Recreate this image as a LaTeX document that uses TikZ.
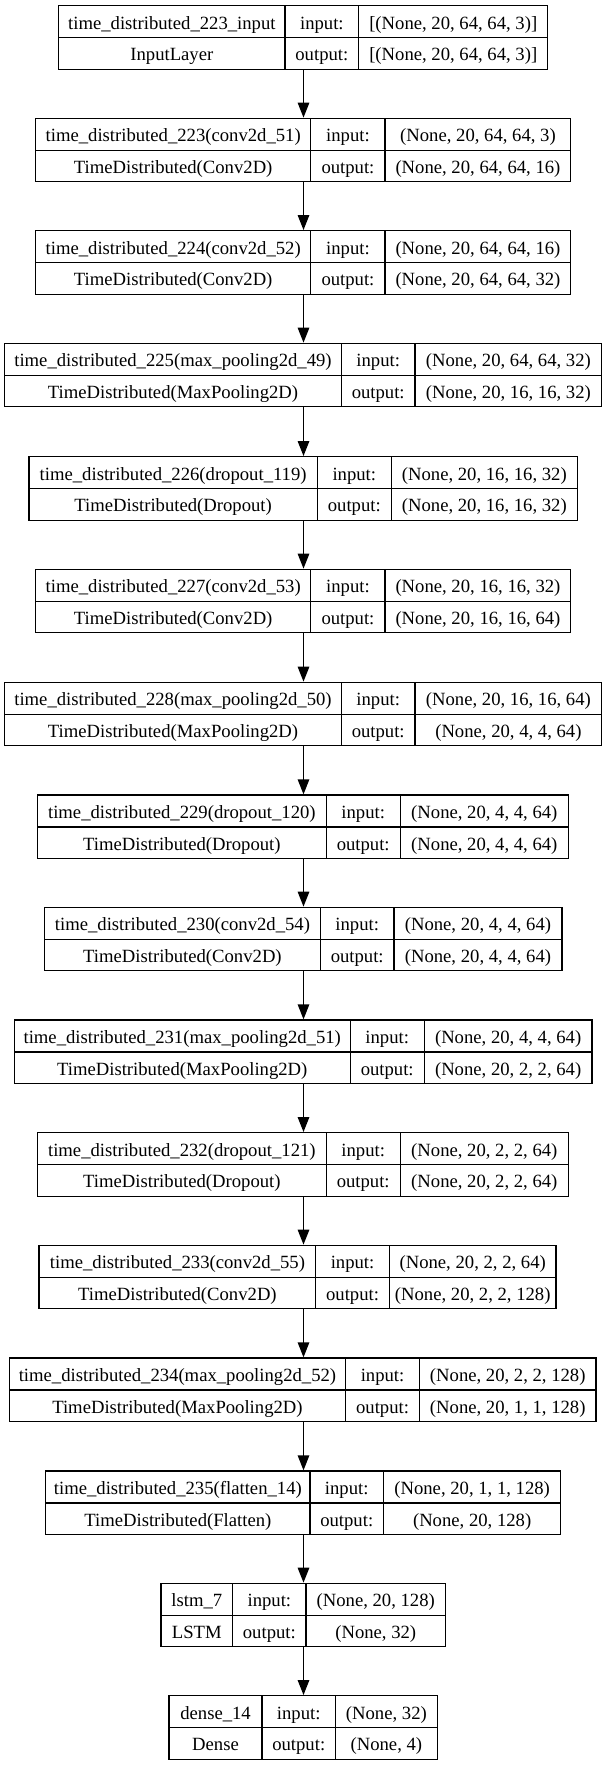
\documentclass[tikz,border=0pt]{standalone}
\usepackage{fontspec}
\setmainfont{Liberation Serif}
\usetikzlibrary{arrows.meta}
\tikzset{
  kbox/.style={draw=black, line width=1.3pt, inner sep=0pt, minimum height=63.5pt},
  kline/.style={draw=black, line width=1.3pt},
  ktext/.style={anchor=base, inner sep=0pt, text=black, font=\fontsize{18.67pt}{22pt}\selectfont},
  karrow/.style={draw=black, line width=1.3pt, -{Triangle[length=15pt,width=11.5pt]}},
}
\newcommand\klayer[9]{\def\kN{#1}\def\kT{#2}\def\kA{#3}\def\kB{#4}\def\kC{#5}\def\kD{#6}\def\kTitle{#7}\def\kClass{#8}\def\kIn{#9}\klayerend}
\newcommand\klayerend[1]{%
  \pgfmathsetmacro\kW{\kD-\kA}%
  \pgfmathsetmacro\kX{(\kA+\kD)/2}%
  \pgfmathsetmacro\kY{\kT+31.75}%
  \pgfmathsetmacro\kM{\kT+32}%
  \pgfmathsetmacro\kE{\kT+63.5}%
  \pgfmathsetmacro\kBa{\kT+23.3}%
  \pgfmathsetmacro\kBb{\kM+23.2}%
  \pgfmathsetmacro\kXa{(\kA+\kB)/2}%
  \pgfmathsetmacro\kXb{(\kB+\kC)/2}%
  \pgfmathsetmacro\kXc{(\kC+\kD)/2}%
  \node[kbox, minimum width=\kW pt] (\kN) at (\kX,\kY) {};
  \draw[kline] (\kA,\kM) -- (\kD,\kM) (\kB,\kT) -- (\kB,\kE) (\kC,\kT) -- (\kC,\kE);
  \node[ktext] (\kN-title) at (\kXa,\kBa) {\kTitle};
  \node[ktext] (\kN-class) at (\kXa,\kBb) {\kClass};
  \node[ktext] (\kN-inl) at (\kXb,\kBa) {input:};
  \node[ktext] (\kN-outl) at (\kXb,\kBb) {output:};
  \node[ktext] (\kN-in) at (\kXc,\kBa) {\kIn};
  \node[ktext] (\kN-out) at (\kXc,\kBb) {#1};
}
\begin{document}
\begin{tikzpicture}[x=1pt,y=-1pt]
\useasboundingbox (0,0) rectangle (604,1765);
\fill[white] (0,0) rectangle (604,1765);
\coordinate (axis) at (303.5,0);
\klayer{L1}{5.7}{58.8}{284.9}{358.8}{547.7}{time\_distributed\_223\_input}{InputLayer}{[(None, 20, 64, 64, 3)]}{[(None, 20, 64, 64, 3)]}
\klayer{L2}{118.3}{35.6}{310.8}{385.1}{570.8}{time\_distributed\_223(conv2d\_51)}{TimeDistributed(Conv2D)}{(None, 20, 64, 64, 3)}{(None, 20, 64, 64, 16)}
\klayer{L3}{230.7}{35.6}{310.8}{385.1}{570.8}{time\_distributed\_224(conv2d\_52)}{TimeDistributed(Conv2D)}{(None, 20, 64, 64, 16)}{(None, 20, 64, 64, 32)}
\klayer{L4}{343.3}{4.6}{341.4}{415}{601.8}{time\_distributed\_225(max\_pooling2d\_49)}{TimeDistributed(MaxPooling2D)}{(None, 20, 64, 64, 32)}{(None, 20, 16, 16, 32)}
\klayer{L5}{456.7}{29}{317.3}{391.3}{577.4}{time\_distributed\_226(dropout\_119)}{TimeDistributed(Dropout)}{(None, 20, 16, 16, 32)}{(None, 20, 16, 16, 32)}
\klayer{L6}{569.3}{35.6}{310.8}{385.1}{570.8}{time\_distributed\_227(conv2d\_53)}{TimeDistributed(Conv2D)}{(None, 20, 16, 16, 32)}{(None, 20, 16, 16, 64)}
\klayer{L7}{682.3}{4.6}{341.4}{415}{601.8}{time\_distributed\_228(max\_pooling2d\_50)}{TimeDistributed(MaxPooling2D)}{(None, 20, 16, 16, 64)}{(None, 20, 4, 4, 64)}
\klayer{L8}{795}{37.5}{326.2}{400.2}{568.5}{time\_distributed\_229(dropout\_120)}{TimeDistributed(Dropout)}{(None, 20, 4, 4, 64)}{(None, 20, 4, 4, 64)}
\klayer{L9}{907.3}{44.5}{320.4}{394}{561.9}{time\_distributed\_230(conv2d\_54)}{TimeDistributed(Conv2D)}{(None, 20, 4, 4, 64)}{(None, 20, 4, 4, 64)}
\klayer{L10}{1020}{14.3}{350.2}{424.2}{592.1}{time\_distributed\_231(max\_pooling2d\_51)}{TimeDistributed(MaxPooling2D)}{(None, 20, 4, 4, 64)}{(None, 20, 2, 2, 64)}
\klayer{L11}{1132.7}{37.5}{326.2}{400.2}{568.5}{time\_distributed\_232(dropout\_121)}{TimeDistributed(Dropout)}{(None, 20, 2, 2, 64)}{(None, 20, 2, 2, 64)}
\klayer{L12}{1245.3}{39.1}{315.8}{389.3}{556.1}{time\_distributed\_233(conv2d\_55)}{TimeDistributed(Conv2D)}{(None, 20, 2, 2, 64)}{(None, 20, 2, 2, 128)}
\klayer{L13}{1358}{9.3}{345.6}{419.5}{596}{time\_distributed\_234(max\_pooling2d\_52)}{TimeDistributed(MaxPooling2D)}{(None, 20, 2, 2, 128)}{(None, 20, 1, 1, 128)}
\klayer{L14}{1471}{45.7}{310}{383.5}{560.8}{time\_distributed\_235(flatten\_14)}{TimeDistributed(Flatten)}{(None, 20, 1, 1, 128)}{(None, 20, 128)}
\klayer{L15}{1583.3}{161}{232.6}{306.1}{445.4}{lstm\_7}{LSTM}{(None, 20, 128)}{(None, 32)}
\klayer{L16}{1695.7}{169.1}{262}{335.5}{437.3}{dense\_14}{Dense}{(None, 32)}{(None, 4)}
\foreach \a/\b in {L1/L2,L2/L3,L3/L4,L4/L5,L5/L6,L6/L7,L7/L8,L8/L9,L9/L10,L10/L11,L11/L12,L12/L13,L13/L14,L14/L15,L15/L16}
  \draw[karrow] (\a.south -| axis) -- (\b.north -| axis);
\end{tikzpicture}
\end{document}
